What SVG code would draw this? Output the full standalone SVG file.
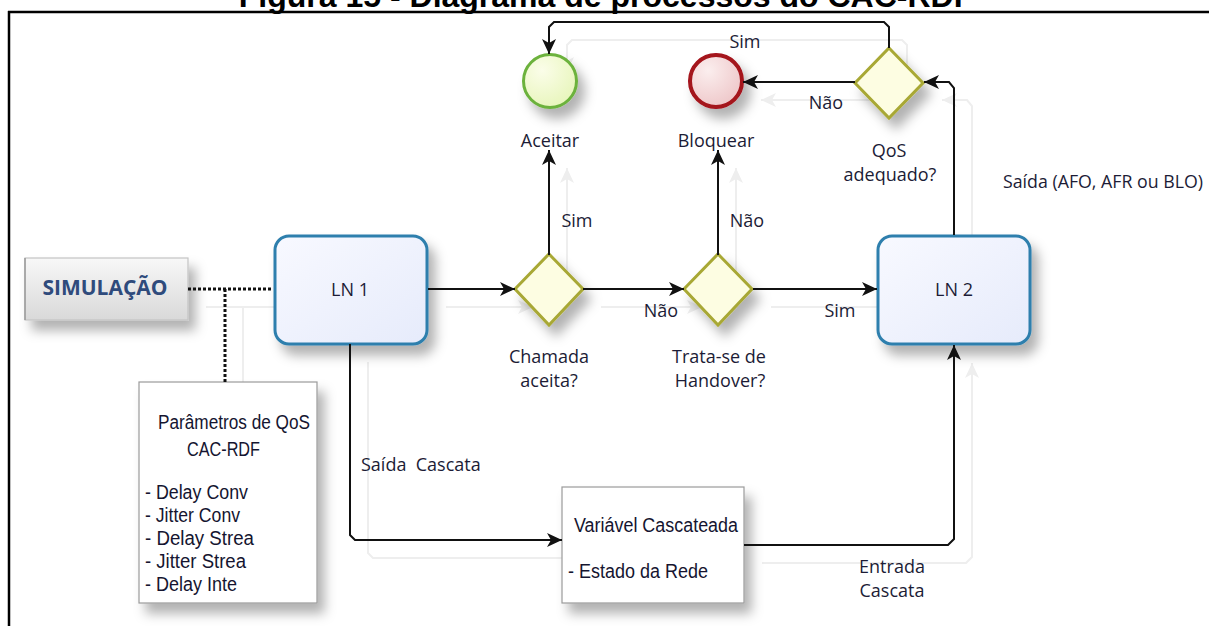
<svg xmlns="http://www.w3.org/2000/svg" width="1209" height="626" viewBox="0 0 1209 626">
  <defs>
    <style>
      .lbl { font-family: "Open Sans", "Noto Sans", "DejaVu Sans", sans-serif; font-size: 18px; fill: #1c1c36; }
      .mid { text-anchor: middle; }
      .narrow { font-family: "Liberation Sans Narrow", "Liberation Sans", Arial, sans-serif; font-size: 20px; fill: #151530; }
      .title { font-family: "Liberation Sans", Arial, sans-serif; font-size: 32px; font-weight: bold; fill: #000; text-anchor: middle; }
      .wire { fill: none; stroke: #111; stroke-width: 2; }
      .ghost { fill: none; stroke: #eeeeee; stroke-width: 2; }
      .dotted { fill: none; stroke: #111; stroke-width: 3; stroke-dasharray: 3 2; }
      .task { fill: url(#taskFill); stroke: #2e7fad; stroke-width: 3; }
      .gate { fill: #fdfde2; stroke: #a8a834; stroke-width: 3; }
      .note { fill: #fff; stroke: #9a9a9a; stroke-width: 1.2; }
      .frame { stroke: #000; stroke-width: 2.5; fill: none; }
    </style>
    <linearGradient id="taskFill" x1="0" y1="0" x2="1" y2="1">
      <stop offset="0" stop-color="#f8f9ff"/>
      <stop offset="1" stop-color="#e6ebfb"/>
    </linearGradient>
    <linearGradient id="simFill" x1="0" y1="0" x2="0" y2="1">
      <stop offset="0" stop-color="#f8f8f8"/>
      <stop offset="1" stop-color="#d9d9d9"/>
    </linearGradient>
    <radialGradient id="okFill" cx="0.35" cy="0.3" r="0.8">
      <stop offset="0" stop-color="#fbfde9"/>
      <stop offset="1" stop-color="#e6f5b8"/>
    </radialGradient>
    <radialGradient id="stopFill" cx="0.35" cy="0.3" r="0.8">
      <stop offset="0" stop-color="#fbeeee"/>
      <stop offset="1" stop-color="#edc4c6"/>
    </radialGradient>
    <filter id="shadow" x="-30%" y="-30%" width="170%" height="180%">
      <feDropShadow dx="7" dy="10" stdDeviation="6" flood-color="#000" flood-opacity="0.3"/>
    </filter>
    <marker id="arrow" markerUnits="userSpaceOnUse" markerWidth="16" markerHeight="14" refX="15" refY="7" orient="auto">
      <path d="M0,0 L15,7 L0,14 L4,7 Z" fill="#111"/>
    </marker>
    <marker id="arrowGhost" markerUnits="userSpaceOnUse" markerWidth="16" markerHeight="14" refX="15" refY="7" orient="auto">
      <path d="M0,0 L15,7 L0,14 L4,7 Z" fill="#eeeeee"/>
    </marker>
  </defs>

  <!-- heading and page frame -->
  <text class="title" x="606" y="7">Figura 15 - Diagrama de processos do CAC-RDF</text>
  <path class="frame" d="M8,12 H1209 M9,11 V626"/>

  <!-- faint offset copies of the connectors -->
  <g id="connector-shadows" transform="translate(18,18)">
    <path class="ghost" d="M188,289 H273 M225,289 V382"/>
    <path class="ghost" marker-end="url(#arrowGhost)" d="M428,289 H515"/>
    <path class="ghost" marker-end="url(#arrowGhost)" d="M583,289 H684"/>
    <path class="ghost" marker-end="url(#arrowGhost)" d="M753,289 H877"/>
    <path class="ghost" marker-end="url(#arrowGhost)" d="M549,255 V150"/>
    <path class="ghost" marker-end="url(#arrowGhost)" d="M718,255 V150"/>
    <path class="ghost" marker-end="url(#arrowGhost)" d="M954,235 V88 L949,82 H924"/>
    <path class="ghost" marker-end="url(#arrowGhost)" d="M855,82 H743"/>
    <path class="ghost" marker-end="url(#arrowGhost)" d="M889,48 V27 L884,22 H554 L549,27 V54"/>
    <path class="ghost" marker-end="url(#arrowGhost)" d="M350,344 V535 L355,540 H562"/>
    <path class="ghost" marker-end="url(#arrowGhost)" d="M744,545 H948 L954,539 V345"/>
  </g>

  <!-- nodes -->
  <g id="simulacao">
    <rect x="25" y="258" width="163" height="62" fill="url(#simFill)" stroke="#c4c4c4" stroke-width="1.2" filter="url(#shadow)"/>
    <path d="M25,258 V320" stroke="#9a9a9a" stroke-width="1.5"/>
    <text x="105" y="295" text-anchor="middle" font-family="'Open Sans', 'Noto Sans', sans-serif" font-size="21" font-weight="bold" fill="#2f4b7c">SIMULAÇÃO</text>
  </g>

  <g id="ln1">
    <rect class="task" x="275" y="236" width="152" height="108" rx="14" filter="url(#shadow)"/>
    <text class="lbl mid" x="350" y="296">LN 1</text>
  </g>

  <g id="ln2">
    <rect class="task" x="878" y="236" width="152" height="108" rx="14" filter="url(#shadow)"/>
    <text class="lbl mid" x="954" y="296">LN 2</text>
  </g>

  <g id="parametros">
    <rect class="note" x="139" y="382" width="178" height="221" filter="url(#shadow)"/>
    <text class="narrow" x="158" y="429" textLength="152" lengthAdjust="spacingAndGlyphs">Parâmetros de QoS</text>
    <text class="narrow" x="187" y="456" textLength="73" lengthAdjust="spacingAndGlyphs">CAC-RDF</text>
    <text class="narrow" x="145" y="499" textLength="103" lengthAdjust="spacingAndGlyphs">- Delay Conv</text>
    <text class="narrow" x="145" y="522" textLength="95" lengthAdjust="spacingAndGlyphs">- Jitter Conv</text>
    <text class="narrow" x="145" y="545" textLength="109" lengthAdjust="spacingAndGlyphs">- Delay Strea</text>
    <text class="narrow" x="145" y="568" textLength="101" lengthAdjust="spacingAndGlyphs">- Jitter Strea</text>
    <text class="narrow" x="145" y="591" textLength="92" lengthAdjust="spacingAndGlyphs">- Delay Inte</text>
  </g>

  <g id="variavel">
    <rect class="note" x="562" y="487" width="182" height="116" filter="url(#shadow)"/>
    <text class="narrow" x="574" y="532" font-size="21" textLength="164" lengthAdjust="spacingAndGlyphs">Variável Cascateada</text>
    <text class="narrow" x="568" y="578" font-size="21" textLength="140" lengthAdjust="spacingAndGlyphs">- Estado da Rede</text>
  </g>

  <g id="chamada-aceita">
    <polygon class="gate" points="549,254 583,289 549,325 515,289" filter="url(#shadow)"/>
    <text class="lbl mid" x="549" y="363">Chamada</text>
    <text class="lbl mid" x="549" y="387">aceita?</text>
  </g>

  <g id="handover">
    <polygon class="gate" points="718,254 752,289 718,325 684,289" filter="url(#shadow)"/>
    <text class="lbl mid" x="719" y="363">Trata-se de</text>
    <text class="lbl mid" x="720" y="387">Handover?</text>
  </g>

  <g id="qos-adequado">
    <polygon class="gate" points="889,48 923,83 889,118 855,83" filter="url(#shadow)"/>
    <text class="lbl mid" x="889" y="157">QoS</text>
    <text class="lbl mid" x="890" y="181">adequado?</text>
  </g>

  <g id="aceitar">
    <circle cx="550" cy="81" r="26.5" fill="url(#okFill)" stroke="#6cb23c" stroke-width="3" filter="url(#shadow)"/>
    <text class="lbl mid" x="550" y="147">Aceitar</text>
  </g>

  <g id="bloquear">
    <circle cx="716" cy="81" r="26" fill="url(#stopFill)" stroke="#a4121b" stroke-width="4" filter="url(#shadow)"/>
    <text class="lbl mid" x="716" y="147">Bloquear</text>
  </g>

  <!-- connectors -->
  <g id="connectors">
    <path class="dotted" d="M188,289 H273 M225,289 V382"/>
    <path class="wire" marker-end="url(#arrow)" d="M428,289 H515"/>
    <path class="wire" marker-end="url(#arrow)" d="M583,289 H684"/>
    <path class="wire" marker-end="url(#arrow)" d="M753,289 H877"/>
    <path class="wire" marker-end="url(#arrow)" d="M549,255 V150"/>
    <path class="wire" marker-end="url(#arrow)" d="M718,255 V150"/>
    <path class="wire" marker-end="url(#arrow)" d="M954,235 V88 L949,82 H924"/>
    <path class="wire" marker-end="url(#arrow)" d="M855,82 H743"/>
    <path class="wire" marker-end="url(#arrow)" d="M889,48 V27 L884,22 H554 L549,27 V54"/>
    <path class="wire" marker-end="url(#arrow)" d="M350,344 V535 L355,540 H562"/>
    <path class="wire" marker-end="url(#arrow)" d="M744,545 H948 L954,539 V345"/>

    <text class="lbl mid" x="745" y="48">Sim</text>
    <text class="lbl mid" x="826" y="109">Não</text>
    <text class="lbl mid" x="577" y="227">Sim</text>
    <text class="lbl mid" x="747" y="227">Não</text>
    <text class="lbl mid" x="661" y="317">Não</text>
    <text class="lbl mid" x="840" y="317">Sim</text>
    <text class="lbl" x="1003" y="188" textLength="200" lengthAdjust="spacingAndGlyphs">Saída (AFO, AFR ou BLO)</text>
    <text class="lbl" x="361" y="471" xml:space="preserve">Saída  Cascata</text>
    <text class="lbl mid" x="892" y="573">Entrada</text>
    <text class="lbl mid" x="892" y="597">Cascata</text>
  </g>
</svg>
